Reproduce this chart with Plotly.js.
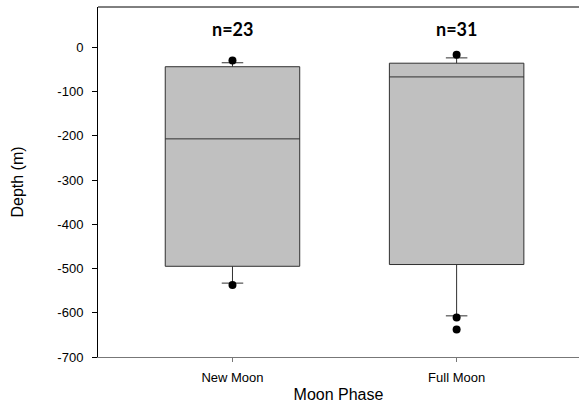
<!DOCTYPE html>
<html>
<head>
<meta charset="utf-8">
<script src="https://cdn.plot.ly/plotly-3.0.1.min.js"></script>
<style>
  html, body { margin: 0; padding: 0; background: #fff; }
  #chart { width: 579px; height: 404px; }
</style>
</head>
<body>
<div id="chart"></div>
<script>
// box statistics per moon phase (depth in m)
var phases = ['New Moon', 'Full Moon'];
var q1 = [-495, -491];
var medians = [-207, -67];
var q3 = [-44, -36];
var lowerFence = [-533, -607];
var upperFence = [-35, -24];
var counts = [23, 31];

// points beyond the whiskers
var outlierPhase = ['New Moon', 'New Moon', 'Full Moon', 'Full Moon', 'Full Moon'];
var outlierDepth = [-30, -537, -17, -611, -638];

// y tick labels, plain hyphen like the original
var depthTicks = [0, -100, -200, -300, -400, -500, -600, -700];
var depthTickText = ['0', '-100', '-200', '-300', '-400', '-500', '-600', '-700'];

var labelY = 42;

function plotBoxes(){
    var boxes = {
        type: 'box',
        x: phases,
        q1: q1,
        median: medians,
        q3: q3,
        lowerfence: lowerFence,
        upperfence: upperFence,
        width: 0.6,
        whiskerwidth: 0.16,
        fillcolor: '#c0c0c0',
        line: {color: '#303030', width: 1},
        hoverinfo: 'y',
        showlegend: false
    };
    var dots = {
        type: 'scatter',
        mode: 'markers',
        x: outlierPhase,
        y: outlierDepth,
        marker: {color: '#000', size: 8},
        hoverinfo: 'y',
        showlegend: false
    };
    var notes = [];
    for (var i = 0; i < phases.length; i++) {
        notes.push({
            x: phases[i], y: labelY, xref: 'x', yref: 'y',
            text: '<b>n=' + counts[i] + '</b>',
            showarrow: false,
            font: {family: 'Lato, "Open Sans", sans-serif', size: 18, color: '#000'}
        });
    }
    var layout = {
        width: 579,
        height: 404,
        margin: {l: 98, r: 0, t: 7, b: 47},
        paper_bgcolor: '#fff',
        plot_bgcolor: '#fff',
        font: {family: '"Liberation Sans", Arial, sans-serif', color: '#000'},
        xaxis: {
            type: 'category',
            range: [-0.6, 1.546],
            showline: true, linecolor: '#777', linewidth: 1,
            ticks: 'outside', ticklen: 4, tickcolor: '#777',
            ticklabelstandoff: 4,
            showgrid: false, zeroline: false,
            tickfont: {size: 13},
            title: {text: 'Moon Phase', font: {size: 16}, standoff: 5}
        },
        yaxis: {
            range: [-700, 91],
            tickvals: depthTicks,
            ticktext: depthTickText,
            showline: true, linecolor: '#000', linewidth: 1,
            ticks: 'outside', ticklen: 5, tickcolor: '#000',
            ticklabelstandoff: 6,
            showgrid: false, zeroline: false,
            tickfont: {size: 13},
            title: {text: 'Depth (m)', font: {size: 16}, standoff: 29}
        },
        shapes: [{
            type: 'line', xref: 'paper', yref: 'paper',
            x0: 0, x1: 1, y0: 1, y1: 1,
            line: {color: '#000', width: 1}
        }],
        annotations: notes
    };
    Plotly.newPlot('chart', [boxes, dots], layout, {displayModeBar: false});
}
plotBoxes();
</script>
</body>
</html>
